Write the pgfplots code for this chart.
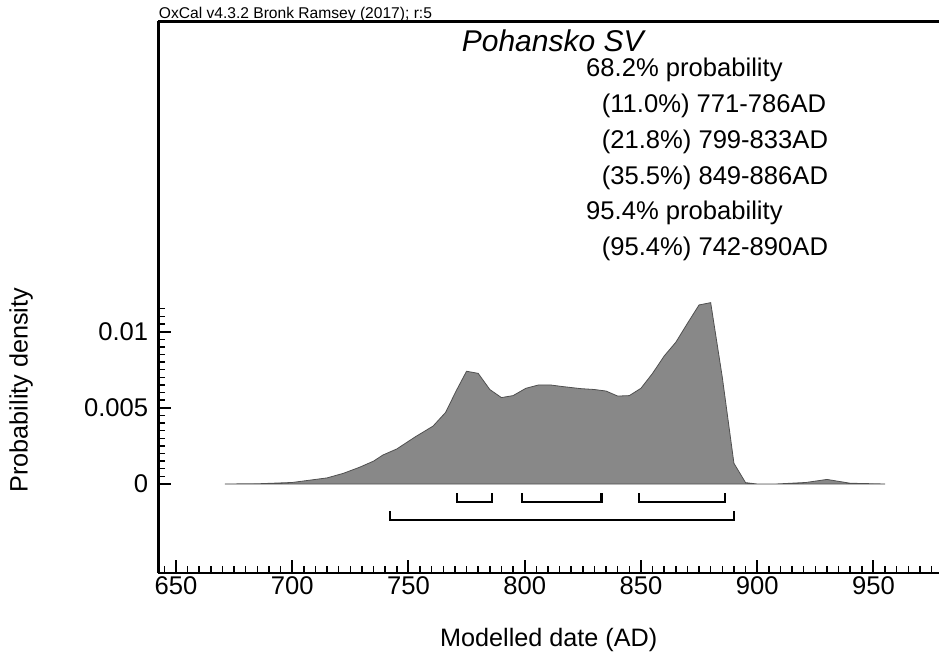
\documentclass[border=0pt]{standalone}
\usepackage{fontspec}
\setmainfont{Liberation Sans}
\usepackage{pgfplots}
\pgfplotsset{compat=1.18}
\definecolor{densgray}{RGB}{136,136,136}
\definecolor{edgegray}{RGB}{80,80,80}

\begin{document}
\begin{tikzpicture}
\path[use as bounding box] (-79.25pt,-40.5pt) rectangle (390.25pt,286.5pt);
\begin{axis}[
  scale only axis, width=390.25pt, height=275.75pt,
  xmin=642.5, xmax=978.2, ymin=-0.00584, ymax=0.03035,
  axis lines=left, axis line style={-, line width=1.25pt},
  tick align=inside, clip=false,
  scaled x ticks=false, scaled y ticks=false,
  xtick={650,700,...,950}, xticklabels={650,700,750,800,850,900,950},
  minor xtick={645,650,...,975},
  ytick={0,0.005,0.01}, yticklabels={0,0.005,0.01},
  minor ytick={0.0005,0.001,...,0.0116},
  major tick length=6.5pt, minor tick length=3.5pt,
  every major tick/.append style={line width=1pt, black},
  every minor tick/.append style={line width=0.7pt, black},
  tick label style={font=\fontsize{12.8}{15}\selectfont, inner sep=0pt},
  xticklabel style={anchor=base, yshift=-11pt},
  yticklabel style={anchor=east, xshift=-5pt},
  label style={font=\fontsize{12.6}{15}\selectfont, inner sep=0pt},
  xlabel={Modelled date (AD)},
  xlabel style={at={(axis description cs:0.5,-0.1336)}, anchor=base},
  ylabel={Probability density},
  ylabel style={at={(axis description cs:-0.1678,0.3318)}, anchor=base, rotate=0},
]
% posterior density
\addplot[fill=densgray, draw=edgegray, line width=0.4pt] coordinates {
  (671,0) (686,0.00002) (700,0.0001) (708,0.00026) (715,0.0004)
  (722,0.0007) (729,0.0011) (735,0.0015) (739,0.0019) (745,0.0023)
  (753,0.0031) (760.6,0.0038) (766,0.0047) (770.5,0.0061) (775,0.0074)
  (780,0.00726) (785,0.0062) (790,0.00567) (795,0.0058) (800.5,0.00628)
  (806,0.0065) (811,0.0065) (816,0.0064) (824,0.00626) (830,0.0062)
  (835,0.0061) (840,0.00577) (845,0.0058) (850,0.00628) (855,0.00726)
  (860,0.0084) (865,0.0093) (870,0.01054) (875,0.01175) (880,0.0119)
  (885,0.0070) (890,0.00136) (895,0.00009) (900,0) (908,0)
  (921,0.0001) (930,0.0003) (940,0.00005) (955,0)
} \closedcycle;
% 68.2% ranges
\addplot[black, line width=1.1pt] coordinates {(771,-0.0006) (771,-0.0012) (786,-0.0012) (786,-0.0006)};
\addplot[black, line width=1.1pt] coordinates {(799,-0.0006) (799,-0.0012) (833,-0.0012) (833,-0.0006)};
\addplot[black, line width=1.1pt] coordinates {(849,-0.0006) (849,-0.0012) (886,-0.0012) (886,-0.0006)};
% 95.4% range
\addplot[black, line width=1.1pt] coordinates {(742,-0.00177) (742,-0.00236) (890,-0.00236) (890,-0.00177)};
\draw[line width=1.25pt] (rel axis cs:0,1) -- (rel axis cs:1,1);
\node[anchor=base west, inner sep=0pt, font=\fontsize{7.8}{9}\selectfont]
  at (axis description cs:0,1.0058) {OxCal v4.3.2 Bronk Ramsey (2017); r:5};
\node[anchor=base west, inner sep=0pt, font=\fontsize{15}{18}\selectfont\itshape]
  at (axis cs:772.8,0.028366) {Pohansko SV};
\begin{scope}[every node/.style={anchor=base west, inner sep=0pt, font=\fontsize{12.8}{15}\selectfont}]
\node at (axis cs:826.3,0.026726) {68.2\% probability};
\node at (axis cs:833.0,0.024364) {(11.0\%) 771-786AD};
\node at (axis cs:833.0,0.022028) {(21.8\%) 799-833AD};
\node at (axis cs:833.0,0.019685) {(35.5\%) 849-886AD};
\node at (axis cs:826.3,0.017369) {95.4\% probability};
\node at (axis cs:833.0,0.015026) {(95.4\%) 742-890AD};
\end{scope}
\end{axis}
\end{tikzpicture}
\end{document}
